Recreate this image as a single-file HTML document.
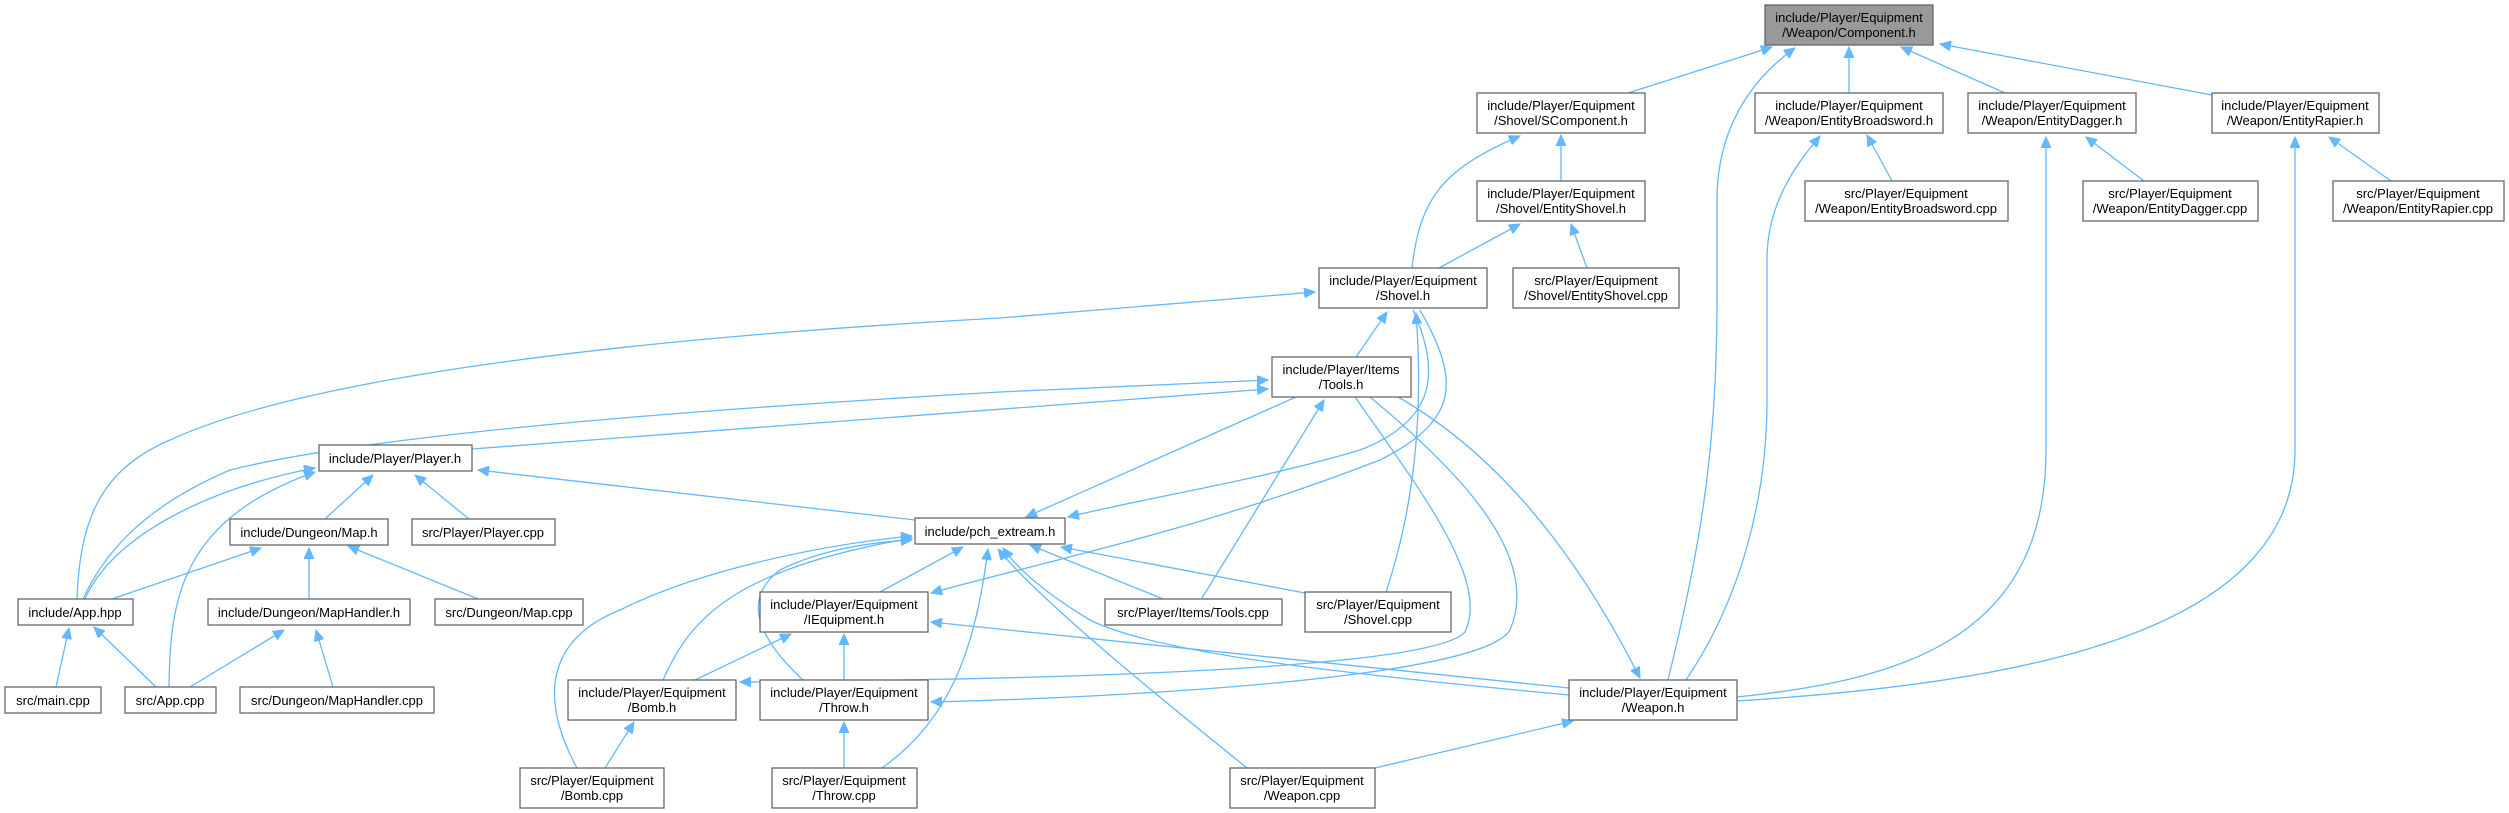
<!DOCTYPE html>
<html><head><meta charset="utf-8"><style>
html,body{margin:0;padding:0;background:#fff;}
svg{display:block;}
text{font-family:"Liberation Sans",Arial,sans-serif;font-size:13px;fill:#000;}
.n{fill:#fff;stroke:#666;stroke-width:1.3;}
.e{fill:none;stroke:#63b8ff;stroke-width:1.3;marker-end:url(#a);}
</style></head><body>
<svg width="2509" height="813" viewBox="0 0 2509 813" xmlns="http://www.w3.org/2000/svg">
<defs><marker id="a" markerUnits="userSpaceOnUse" markerWidth="12" markerHeight="10" refX="11" refY="5" orient="auto"><path d="M0,0 L11,5 L0,10 z" fill="#63b8ff" stroke="#63b8ff"/></marker></defs>
<g>
<path class="e" d="M1628,93 L1772,47"/>
<path class="e" d="M1668,680 C1700,550 1717,450 1717,300 L1717,200 C1717,130 1750,80 1795,48"/>
<path class="e" d="M1849,93 L1849,47"/>
<path class="e" d="M2005,93 L1901,47"/>
<path class="e" d="M2212,95 L1940,44"/>
<path class="e" d="M1561,181 L1561,135"/>
<path class="e" d="M1412,268 C1420,200 1440,170 1520,136"/>
<path class="e" d="M1892,181 L1867,135"/>
<path class="e" d="M1686,680 C1740,600 1767,500 1767,400 L1767,260 C1767,200 1800,160 1820,136"/>
<path class="e" d="M1737,697 C1900,680 2046,640 2046,450 L2046,137"/>
<path class="e" d="M1737,701 C2000,684 2295,640 2295,450 L2295,137"/>
<path class="e" d="M2144,181 L2086,137"/>
<path class="e" d="M2391,181 L2329,137"/>
<path class="e" d="M1439,268 L1520,224"/>
<path class="e" d="M1587,268 L1571,224"/>
<path class="e" d="M1356,357 L1387,312"/>
<path class="e" d="M77,599 C80,520 100,470 170,440 C300,380 600,340 1000,318 L1315,292"/>
<path class="e" d="M1413,310 C1440,370 1438,420 1360,450 C1260,480 1150,497 1068,517"/>
<path class="e" d="M1420,310 C1460,380 1460,420 1380,460 C1200,530 1050,560 931,593"/>
<path class="e" d="M1386,592 C1410,520 1425,430 1416,313"/>
<path class="e" d="M1296,397 L1026,517"/>
<path class="e" d="M1202,598 L1324,400"/>
<path class="e" d="M1355,397 C1420,490 1490,580 1465,632 C1430,672 1000,680 740,682"/>
<path class="e" d="M1370,397 C1470,480 1540,560 1510,630 C1480,680 1100,698 931,702"/>
<path class="e" d="M1398,397 C1490,450 1570,540 1640,678"/>
<path class="e" d="M83,599 C110,540 160,500 230,470 C350,440 600,415 1000,392 L1268,380"/>
<path class="e" d="M472,449 L1268,389"/>
<path class="e" d="M85,599 C110,540 200,490 315,468"/>
<path class="e" d="M169,687 C170,600 180,520 315,472"/>
<path class="e" d="M325,519 L373,475"/>
<path class="e" d="M469,519 L415,475"/>
<path class="e" d="M915,520 L478,470"/>
<path class="e" d="M112,599 L261,548"/>
<path class="e" d="M309,599 L309,548"/>
<path class="e" d="M478,599 L348,546"/>
<path class="e" d="M56,687 L69,628"/>
<path class="e" d="M156,687 L94,627"/>
<path class="e" d="M190,687 L284,630"/>
<path class="e" d="M333,687 L316,630"/>
<path class="e" d="M880,592 L963,547"/>
<path class="e" d="M695,680 L791,634"/>
<path class="e" d="M844,680 L844,634"/>
<path class="e" d="M1569,688 L931,622"/>
<path class="e" d="M1569,695 C1300,670 1150,650 1090,620 C1040,590 1015,565 1003,548"/>
<path class="e" d="M605,768 L634,722"/>
<path class="e" d="M844,768 L844,722"/>
<path class="e" d="M1375,768 L1573,721"/>
<path class="e" d="M1247,768 C1150,690 1040,600 998,549"/>
<path class="e" d="M882,768 C950,720 975,650 988,549"/>
<path class="e" d="M577,768 C540,700 545,640 620,610 C700,570 820,545 912,536"/>
<path class="e" d="M663,680 C690,620 730,570 912,538"/>
<path class="e" d="M803,680 C760,640 740,600 780,570 C820,550 870,542 912,540"/>
<path class="e" d="M1305,593 L1061,547"/>
<path class="e" d="M1163,599 L1030,545"/>
</g>
<g text-anchor="middle">
<rect x="1765" y="5" width="168" height="40" fill="#999" stroke="#666" stroke-width="1.3"/><text x="1849" y="22">include/Player/Equipment</text><text x="1849" y="37">/Weapon/Component.h</text>
<rect class="n" x="1477" y="93" width="168" height="40"/><text x="1561" y="110">include/Player/Equipment</text><text x="1561" y="125">/Shovel/SComponent.h</text>
<rect class="n" x="1755" y="93" width="188" height="40"/><text x="1849" y="110">include/Player/Equipment</text><text x="1849" y="125">/Weapon/EntityBroadsword.h</text>
<rect class="n" x="1968" y="93" width="168" height="40"/><text x="2052" y="110">include/Player/Equipment</text><text x="2052" y="125">/Weapon/EntityDagger.h</text>
<rect class="n" x="2212" y="93" width="167" height="40"/><text x="2295" y="110">include/Player/Equipment</text><text x="2295" y="125">/Weapon/EntityRapier.h</text>
<rect class="n" x="1477" y="181" width="168" height="40"/><text x="1561" y="198">include/Player/Equipment</text><text x="1561" y="213">/Shovel/EntityShovel.h</text>
<rect class="n" x="1805" y="181" width="203" height="40"/><text x="1906" y="198">src/Player/Equipment</text><text x="1906" y="213">/Weapon/EntityBroadsword.cpp</text>
<rect class="n" x="2083" y="181" width="175" height="40"/><text x="2170" y="198">src/Player/Equipment</text><text x="2170" y="213">/Weapon/EntityDagger.cpp</text>
<rect class="n" x="2333" y="181" width="171" height="40"/><text x="2418" y="198">src/Player/Equipment</text><text x="2418" y="213">/Weapon/EntityRapier.cpp</text>
<rect class="n" x="1319" y="268" width="168" height="40"/><text x="1403" y="285">include/Player/Equipment</text><text x="1403" y="300">/Shovel.h</text>
<rect class="n" x="1513" y="268" width="166" height="40"/><text x="1596" y="285">src/Player/Equipment</text><text x="1596" y="300">/Shovel/EntityShovel.cpp</text>
<rect class="n" x="1272" y="357" width="139" height="40"/><text x="1341" y="374">include/Player/Items</text><text x="1341" y="389">/Tools.h</text>
<rect class="n" x="319" y="445" width="153" height="26"/><text x="395" y="463">include/Player/Player.h</text>
<rect class="n" x="915" y="518" width="150" height="26"/><text x="990" y="536">include/pch_extream.h</text>
<rect class="n" x="230" y="519" width="158" height="26"/><text x="309" y="537">include/Dungeon/Map.h</text>
<rect class="n" x="412" y="519" width="143" height="26"/><text x="483" y="537">src/Player/Player.cpp</text>
<rect class="n" x="18" y="599" width="115" height="26"/><text x="75" y="617">include/App.hpp</text>
<rect class="n" x="208" y="599" width="202" height="26"/><text x="309" y="617">include/Dungeon/MapHandler.h</text>
<rect class="n" x="435" y="599" width="148" height="26"/><text x="509" y="617">src/Dungeon/Map.cpp</text>
<rect class="n" x="760" y="592" width="168" height="40"/><text x="844" y="609">include/Player/Equipment</text><text x="844" y="624">/IEquipment.h</text>
<rect class="n" x="1105" y="599" width="177" height="26"/><text x="1193" y="617">src/Player/Items/Tools.cpp</text>
<rect class="n" x="1305" y="592" width="146" height="40"/><text x="1378" y="609">src/Player/Equipment</text><text x="1378" y="624">/Shovel.cpp</text>
<rect class="n" x="5" y="687" width="96" height="26"/><text x="53" y="705">src/main.cpp</text>
<rect class="n" x="125" y="687" width="91" height="26"/><text x="170" y="705">src/App.cpp</text>
<rect class="n" x="240" y="687" width="194" height="26"/><text x="337" y="705">src/Dungeon/MapHandler.cpp</text>
<rect class="n" x="568" y="680" width="168" height="40"/><text x="652" y="697">include/Player/Equipment</text><text x="652" y="712">/Bomb.h</text>
<rect class="n" x="760" y="680" width="168" height="40"/><text x="844" y="697">include/Player/Equipment</text><text x="844" y="712">/Throw.h</text>
<rect class="n" x="1569" y="680" width="168" height="40"/><text x="1653" y="697">include/Player/Equipment</text><text x="1653" y="712">/Weapon.h</text>
<rect class="n" x="520" y="768" width="144" height="40"/><text x="592" y="785">src/Player/Equipment</text><text x="592" y="800">/Bomb.cpp</text>
<rect class="n" x="772" y="768" width="145" height="40"/><text x="844" y="785">src/Player/Equipment</text><text x="844" y="800">/Throw.cpp</text>
<rect class="n" x="1230" y="768" width="145" height="40"/><text x="1302" y="785">src/Player/Equipment</text><text x="1302" y="800">/Weapon.cpp</text>
</g>
</svg>
</body></html>
